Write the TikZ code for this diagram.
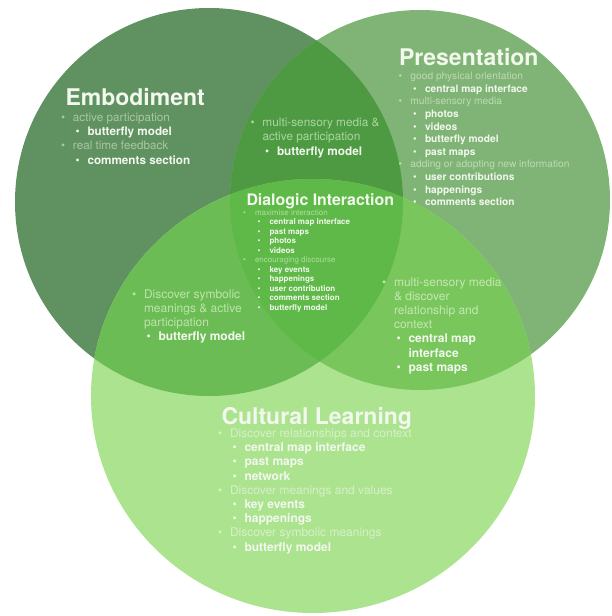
\documentclass[tikz,border=0pt]{standalone}
\usepackage{fontspec}
\setmainfont{TeX Gyre Heros}
\definecolor{fE}{RGB}{96,145,96}
\definecolor{fP}{RGB}{128,180,118}
\definecolor{fC}{RGB}{172,227,143}
\definecolor{fEP}{RGB}{78,154,66}
\definecolor{fEC}{RGB}{108,188,86}
\definecolor{fPC}{RGB}{120,198,92}
\definecolor{fEPC}{RGB}{95,185,72}
\definecolor{lE}{RGB}{168,200,163}
\definecolor{lP}{RGB}{190,218,180}
\definecolor{lC}{RGB}{214,241,200}
\definecolor{lEP}{RGB}{170,214,160}
\definecolor{lEC}{RGB}{188,228,170}
\definecolor{lPC}{RGB}{196,232,176}
\definecolor{lEPC}{RGB}{172,222,156}
\definecolor{bw}{RGB}{242,248,238}
\newcommand\blist[2]{\vtop{\baselineskip=#1\lineskip=0pt\lineskiplimit=-100pt #2}}
\newcommand\ia[1]{\hbox{\makebox[12pt][l]{\textbullet}#1}}
\newcommand\ib[1]{\hbox{\hspace*{14.5pt}\makebox[12pt][l]{\color{bw}\textbullet}{\color{bw}\bfseries #1}}}
\newcommand\ic[1]{\hbox{\hspace*{12pt}#1}}
\newcommand\id[1]{\hbox{\hspace*{26.5pt}{\color{bw}\bfseries #1}}}
\tikzset{
  every node/.style={inner sep=0pt, outer sep=0pt},
  ttl/.style={anchor=base west, font=\bfseries\fontsize{23}{27}\selectfont, text=bw},
  blk/.style={anchor=base west},
}
\begin{document}
\begin{tikzpicture}[x=1pt,y=-1pt]
\useasboundingbox (0,0) rectangle (611,616);
\coordinate (cE) at (209,202);
\coordinate (cP) at (420,200);
\coordinate (cC) at (313,396);
% single regions
\fill[fE] (cE) circle[radius=194pt];
\fill[fP] (cP) circle[radius=190pt];
\fill[fC] (cC) ellipse[x radius=222pt, y radius=217pt];
% pairwise
\begin{scope}
  \clip (cE) circle[radius=194pt];
  \fill[fEP] (cP) circle[radius=190pt];
  \fill[fEC] (cC) ellipse[x radius=222pt, y radius=217pt];
\end{scope}
\begin{scope}
  \clip (cP) circle[radius=190pt];
  \fill[fPC] (cC) ellipse[x radius=222pt, y radius=217pt];
\end{scope}
\begin{scope}
  \clip (cE) circle[radius=194pt];
  \clip (cP) circle[radius=190pt];
  \fill[fEPC] (cC) ellipse[x radius=222pt, y radius=217pt];
\end{scope}
% titles
\node[ttl] (tE) at (65.5,105) {Embodiment};
\node[ttl] (tP) at (399,65) {Presentation};
\node[ttl, font=\bfseries\fontsize{15.9}{19}\selectfont] (tD) at (246.5,205.7) {Dialogic Interaction};
\node[ttl] (tC) at (221.5,424) {Cultural Learning};
% Embodiment list
\node[blk, text=lE, font=\fontsize{11.7}{14.2}\selectfont] (lsE) at (61,121.5) {\blist{14.2pt}{%
  \ia{active participation}\ib{butterfly model}%
  \ia{real time feedback}\ib{comments section}}};
% Presentation list
\node[blk, text=lP, font=\fontsize{10.2}{12.6}\selectfont] (lsP) at (398.5,79.8) {\blist{12.58pt}{%
  \ia{good physical orientation}\ib{central map interface}%
  \ia{multi-sensory media}\ib{photos}\ib{videos}\ib{butterfly model}\ib{past maps}%
  \ia{adding or adopting new information}\ib{user contributions}\ib{happenings}\ib{comments section}}};
% E & P lens
\node[blk, text=lEP, font=\fontsize{11.8}{14.2}\selectfont] (lsEP) at (250.5,126.5) {\blist{14.25pt}{%
  \ia{multi-sensory media \&}\ic{active participation}\ib{butterfly model}}};
% Dialogic list
\node[blk, text=lEPC, font=\fontsize{8}{9.5}\selectfont] (lsD) at (243,215.5) {\blist{9.47pt}{%
  \ia{maximise interaction}\ib{central map interface}\ib{past maps}\ib{photos}\ib{videos}%
  \ia{encouraging discourse}\ib{key events}\ib{happenings}\ib{user contribution}\ib{comments section}\ib{butterfly model}}};
% E & C lens
\node[blk, text=lEC, font=\fontsize{12}{14.2}\selectfont] (lsEC) at (132,298) {\blist{14.15pt}{%
  \ia{Discover symbolic}\ic{meanings \& active}\ic{participation}\ib{butterfly model}}};
% P & C lens
\node[blk, text=lPC, font=\fontsize{12}{14.2}\selectfont] (lsPC) at (382,286.3) {\blist{14.15pt}{%
  \ia{multi-sensory media}\ic{\& discover}\ic{relationship and}\ic{context}%
  \ib{central map}\id{interface}\ib{past maps}}};
% Cultural list
\node[blk, text=lC, font=\fontsize{12}{14.2}\selectfont] (lsC) at (218,437.5) {\blist{14.2pt}{%
  \ia{Discover relationships and context}\ib{central map interface}\ib{past maps}\ib{network}%
  \ia{Discover meanings and values}\ib{key events}\ib{happenings}%
  \ia{Discover symbolic meanings}\ib{butterfly model}}};
\end{tikzpicture}
\end{document}
